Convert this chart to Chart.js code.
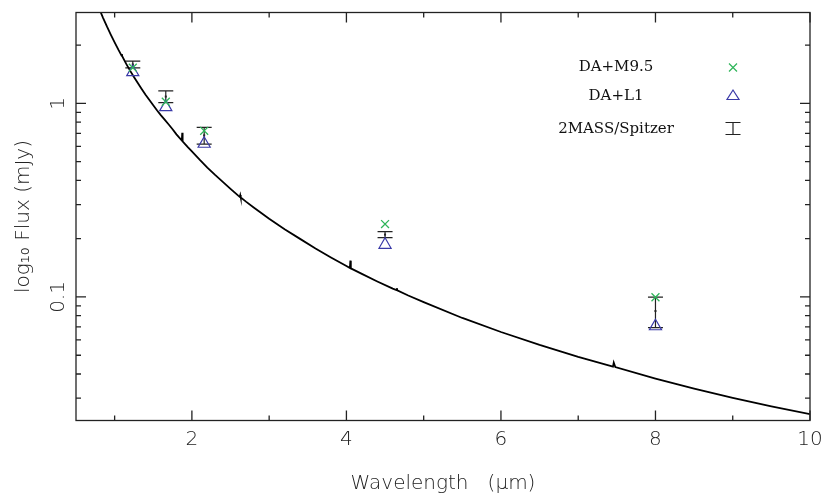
<!DOCTYPE html>
<html>
<head>
<meta charset="utf-8">
<script src="https://cdn.jsdelivr.net/npm/chart.js@4.4.0/dist/chart.umd.min.js"></script>
<style>
  body { margin: 0; background: #fff; }
  #wrap { width: 823px; height: 496px; }
</style>
</head>
<body>
<div id="wrap"><canvas id="sed"></canvas></div>
<script>
// model spectrum, wavelength in micron, flux in mJy
const modelWave = [0.78, 0.80, 0.85, 0.90, 0.95, 1.00, 1.05, 1.090, 1.094, 1.098, 1.15, 1.20, 1.25, 1.30, 1.35,
  1.40, 1.45, 1.50, 1.55, 1.60, 1.65, 1.70, 1.75, 1.80, 1.870, 1.875, 1.880, 1.90, 1.95, 2.00, 2.10, 2.20,
  2.30, 2.40, 2.50, 2.60, 2.620, 2.626, 2.632, 2.70, 2.80, 3.00, 3.20, 3.40, 3.60, 3.80, 4.00, 4.045, 4.051,
  4.057, 4.20, 4.40, 4.60, 4.648, 4.653, 4.658, 4.80, 5.00, 5.50, 6.00, 6.50, 7.00, 7.45, 7.46, 7.48, 8.00,
  8.50, 9.00, 9.50, 10.0];
const modelFlux = [3.25, 3.09, 2.77, 2.50, 2.27, 2.07, 1.89, 1.765, 1.80, 1.755, 1.60, 1.477, 1.37, 1.274, 1.188,
  1.11, 1.041, 0.978, 0.920, 0.868, 0.822, 0.778, 0.736, 0.692, 0.643, 0.705, 0.636, 0.624, 0.593, 0.565, 0.512, 0.466,
  0.427, 0.393, 0.362, 0.334, 0.329, 0.336, 0.327, 0.311, 0.290, 0.2537, 0.224, 0.1996, 0.178, 0.160, 0.1445, 0.1410, 0.154,
  0.1405, 0.1316, 0.1203, 0.1105, 0.1085, 0.111, 0.1082, 0.1018, 0.0941, 0.0779, 0.0659, 0.0565, 0.0490, 0.0437, 0.0458, 0.0434, 0.0379,
  0.0336, 0.0301, 0.0272, 0.0248];

// photometry: J, H, K (2MASS), 4.5 and 8.0 micron (Spitzer)
const photWave = [1.235, 1.662, 2.159, 4.5, 8.0];
const photFlux = [1.59, 1.085, 0.684, 0.210, 0.0846];
const photErr = [0.065, 0.075, 0.068, 0.0076, 0.0152];

// composite models
const m95Flux = [1.53, 1.02, 0.722, 0.238, 0.0997];
const l1Flux = [1.45, 0.957, 0.619, 0.186, 0.0706];

// axis ticks
const xMajor = [2, 4, 6, 8, 10];
const xMinor = [1, 3, 5, 7, 9];
const yMajor = [0.1, 1];
const yMinor = [0.03, 0.04, 0.05, 0.06, 0.07, 0.08, 0.09, 0.2, 0.3, 0.4, 0.5, 0.6, 0.7, 0.8, 0.9, 2];

const green = '#2fb55a';
const blue = '#3a3aa8';
const ink = '#222';

const pts = (ys) => photWave.map((x, i) => ({ x: x, y: ys[i] }));

// error bars, box and inward ticks like the original plot
const framePlugin = {
  id: 'frame',
  beforeDatasetsDraw(chart) {
    const ctx = chart.ctx, xs = chart.scales.x, ys = chart.scales.y;
    ctx.save();
    ctx.strokeStyle = ink;
    ctx.lineWidth = 1.2;
    photWave.forEach((w, i) => {
      const px = xs.getPixelForValue(w);
      const top = ys.getPixelForValue(photFlux[i] + photErr[i]);
      const bot = ys.getPixelForValue(photFlux[i] - photErr[i]);
      ctx.beginPath();
      ctx.moveTo(px, top); ctx.lineTo(px, bot);
      ctx.moveTo(px - 7.5, top); ctx.lineTo(px + 7.5, top);
      ctx.moveTo(px - 7.5, bot); ctx.lineTo(px + 7.5, bot);
      ctx.stroke();
      ctx.fillStyle = ink;
      ctx.fillRect(px - 1, ys.getPixelForValue(photFlux[i]) - 1, 2, 2);
    });
    ctx.restore();
  },
  afterDraw(chart) {
    const ctx = chart.ctx, a = chart.chartArea, xs = chart.scales.x, ys = chart.scales.y;
    ctx.save();
    ctx.strokeStyle = ink;
    ctx.lineWidth = 1.3;
    ctx.strokeRect(a.left, a.top, a.right - a.left, a.bottom - a.top);
    ctx.beginPath();
    const xt = (v, len) => {
      const px = xs.getPixelForValue(v);
      ctx.moveTo(px, a.bottom); ctx.lineTo(px, a.bottom - len);
      ctx.moveTo(px, a.top); ctx.lineTo(px, a.top + len);
    };
    const yt = (v, len) => {
      const py = ys.getPixelForValue(v);
      ctx.moveTo(a.left, py); ctx.lineTo(a.left + len, py);
      ctx.moveTo(a.right, py); ctx.lineTo(a.right - len, py);
    };
    xMajor.forEach(v => xt(v, 10));
    xMinor.forEach(v => xt(v, 5));
    yMajor.forEach(v => yt(v, 10));
    yMinor.forEach(v => yt(v, 5));
    ctx.stroke();

    // legend
    ctx.font = '15px "DejaVu Serif"';
    ctx.fillStyle = '#111';
    ctx.textAlign = 'center';
    ctx.textBaseline = 'middle';
    ctx.fillText('DA+M9.5', 616, 67);
    ctx.fillText('DA+L1', 616, 96);
    ctx.fillText('2MASS/Spitzer', 616, 129);

    const sx = 733;
    ctx.lineWidth = 1.2;
    ctx.strokeStyle = green;
    ctx.beginPath();
    ctx.moveTo(sx - 4, 63.5); ctx.lineTo(sx + 4, 71.5);
    ctx.moveTo(sx + 4, 63.5); ctx.lineTo(sx - 4, 71.5);
    ctx.stroke();
    ctx.strokeStyle = blue;
    ctx.beginPath();
    ctx.moveTo(sx, 90); ctx.lineTo(sx + 6, 99.5); ctx.lineTo(sx - 6, 99.5); ctx.closePath();
    ctx.stroke();
    ctx.strokeStyle = ink;
    ctx.beginPath();
    ctx.moveTo(sx - 7.5, 122.5); ctx.lineTo(sx + 7.5, 122.5);
    ctx.moveTo(sx, 122.5); ctx.lineTo(sx, 134.5);
    ctx.moveTo(sx - 7.5, 134.5); ctx.lineTo(sx + 7.5, 134.5);
    ctx.stroke();
    ctx.restore();
  }
};

const axisFont = { family: '"DejaVu Sans"', size: 20, weight: 300 };

new Chart(document.getElementById('sed'), {
  type: 'scatter',
  data: {
    datasets: [
      {
        label: 'DA+M9.5',
        data: pts(m95Flux),
        pointStyle: 'crossRot',
        pointRadius: 5.6,
        borderColor: green,
        backgroundColor: green,
        borderWidth: 1.3
      },
      {
        label: 'DA+L1',
        data: pts(l1Flux),
        pointStyle: 'triangle',
        pointRadius: 7,
        borderColor: blue,
        backgroundColor: 'rgba(0,0,0,0)',
        borderWidth: 1.2
      },
      {
        label: 'model',
        type: 'line',
        data: modelWave.map((w, i) => ({ x: w, y: modelFlux[i] })),
        borderColor: '#000',
        borderWidth: 1.8,
        pointRadius: 0,
        tension: 0,
        fill: false
      }
    ]
  },
  options: {
    responsive: true,
    maintainAspectRatio: false,
    animation: false,
    layout: { padding: { top: 12.5, right: 13, left: 0, bottom: 0 } },
    plugins: {
      legend: { display: false },
      tooltip: { enabled: false }
    },
    scales: {
      x: {
        type: 'linear',
        min: 0.5,
        max: 10,
        bounds: 'data',
        grid: { display: false, drawTicks: false },
        border: { display: false },
        afterBuildTicks: (s) => { s.ticks = xMajor.map(v => ({ value: v })); },
        afterFit: (s) => { s.height = 75.5; s.paddingLeft = 0; s.paddingRight = 0; },
        ticks: { font: axisFont, color: ink, padding: 7, maxRotation: 0 },
        title: {
          display: true,
          text: 'Wavelength   (\u03bcm)',
          font: axisFont,
          color: ink,
          padding: { top: 0, bottom: 0 }
        }
      },
      y: {
        type: 'logarithmic',
        min: 0.023,
        max: 2.95,
        bounds: 'data',
        grid: { display: false, drawTicks: false },
        border: { display: false },
        afterBuildTicks: (s) => { s.ticks = yMajor.map(v => ({ value: v })); },
        afterFit: (s) => { s.width = 76; s.paddingTop = 0; s.paddingBottom = 0; },
        ticks: {
          font: axisFont,
          color: ink,
          minRotation: 90,
          maxRotation: 90,
          crossAlign: 'center',
          padding: 1,
          callback: (v) => String(v)
        },
        title: {
          display: true,
          text: 'log\u2081\u2080 Flux (mJy)',
          font: axisFont,
          color: ink,
          padding: { top: 12, bottom: 0 }
        }
      }
    }
  },
  plugins: [framePlugin]
});
</script>
</body>
</html>
